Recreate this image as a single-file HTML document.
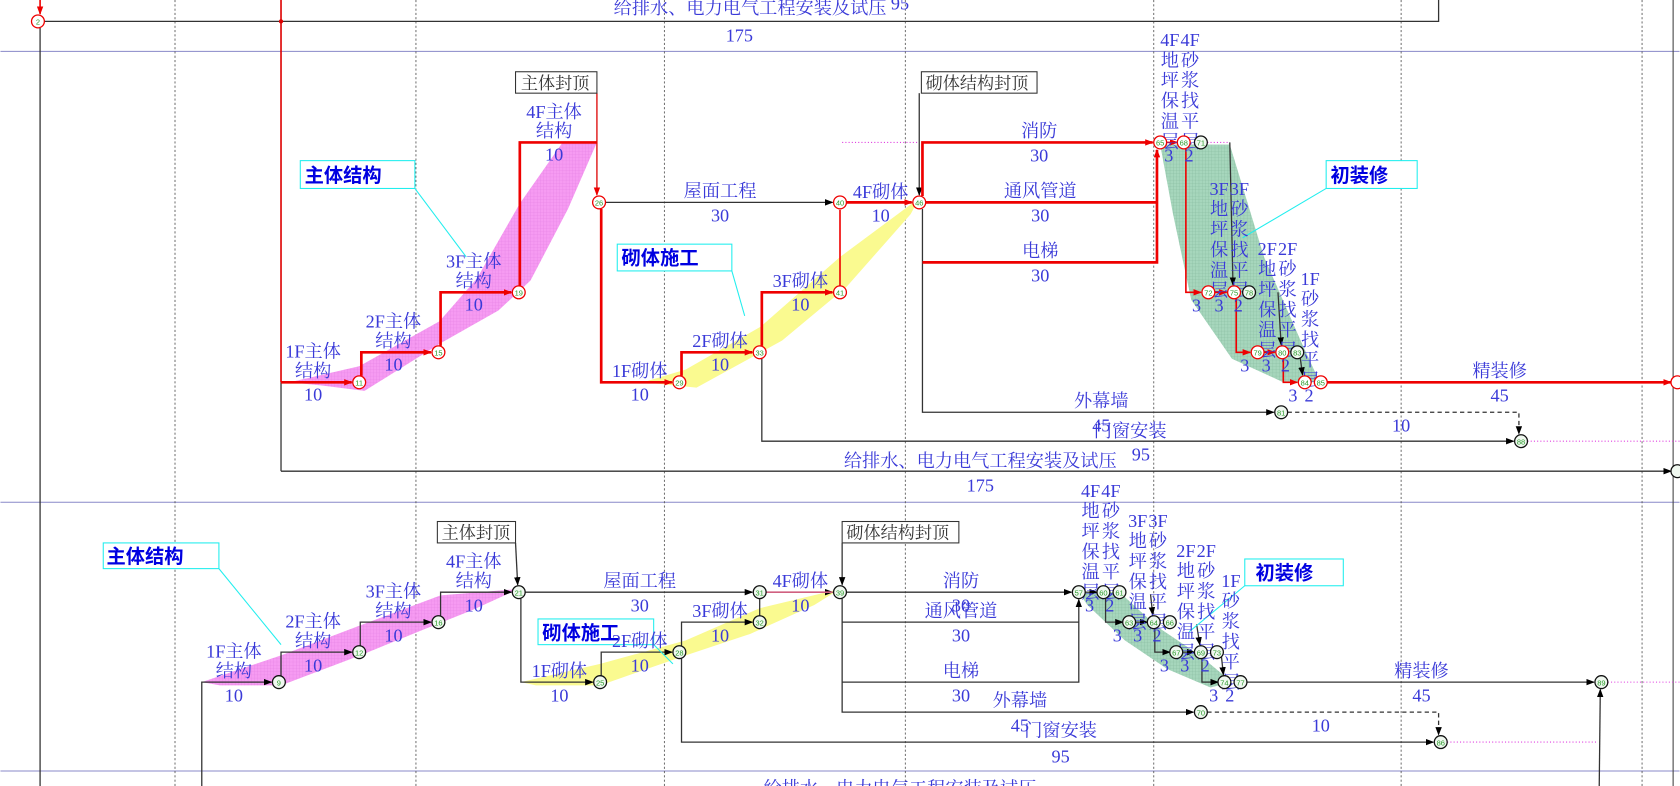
<!DOCTYPE html>
<html><head><meta charset="utf-8"><style>
html,body{margin:0;padding:0;background:#fff;}
svg{display:block;}
text{font-family:"Liberation Serif","Noto Serif CJK SC",serif;fill:#3a3ad8;font-size:17px;text-anchor:middle;}
.n{font-size:7px;fill:#2a9a2a;font-family:"Liberation Sans",sans-serif;}
.cb{font-family:"Liberation Sans","Noto Sans CJK SC",sans-serif;font-weight:bold;fill:#0000e0;font-size:18px;text-anchor:start;}
.bx{fill:#333;font-size:16px;text-anchor:start;}
</style></head><body>
<svg width="1680" height="786" viewBox="0 0 1568 734" xmlns="http://www.w3.org/2000/svg">
<defs>
<marker id="ab" markerWidth="8" markerHeight="6" refX="7" refY="3" orient="auto" markerUnits="userSpaceOnUse"><path d="M0,0 L8,3 L0,6z" fill="#000"/></marker>
<marker id="ar" markerWidth="8" markerHeight="6" refX="7" refY="3" orient="auto" markerUnits="userSpaceOnUse"><path d="M0,0 L8,3 L0,6z" fill="#e00"/></marker>
<pattern id="gp" width="3" height="3" patternUnits="userSpaceOnUse"><rect width="3" height="3" fill="#a6d6bc"/><path d="M0,0h3M0,0v3" stroke="#84b89c" stroke-width="0.5"/></pattern>
<pattern id="pp" width="3" height="3" patternUnits="userSpaceOnUse"><rect width="3" height="3" fill="#f590f0"/><path d="M0,0h3M0,0v3" stroke="#e070e0" stroke-width="0.5"/></pattern>
</defs>
<!-- grid -->
<g stroke="#8888c8" stroke-width="1"><line x1="0" y1="48" x2="1568" y2="48"/><line x1="0" y1="469" x2="1568" y2="469"/><line x1="0" y1="720" x2="1568" y2="720"/></g>
<g stroke="#555" stroke-width="0.8" stroke-dasharray="2,2"><line x1="163" y1="0" x2="163" y2="734"/><line x1="388" y1="0" x2="388" y2="734"/><line x1="620" y1="0" x2="620" y2="734"/><line x1="845" y1="0" x2="845" y2="734"/><line x1="1077" y1="0" x2="1077" y2="734"/><line x1="1308" y1="0" x2="1308" y2="734"/><line x1="1533" y1="0" x2="1533" y2="734"/></g>
<line x1="1562" y1="0" x2="1562" y2="734" stroke="#444" stroke-width="1"/>

<!-- bands -->
<polygon points="270,357 335,342 410,300 445,260 485,190 525,133 557,133 530,195 495,262 465,290 412,320 340,365 300,360" fill="url(#pp)" opacity="0.9"/>
<polygon points="600,357 640,345 710,305 784,240 858,185 850,200 790,268 730,318 650,362" fill="#fafa90"/>
<polygon points="1083,135 1148,135 1180,240 1215,320 1232,357 1198,357 1150,335 1112,280 1095,200" fill="url(#gp)"/>
<polygon points="188,637 262,612 336,584 411,556 484,550 440,570 390,590 336,612 262,640 205,640" fill="url(#pp)" opacity="0.9"/>
<polygon points="486,637 560,620 640,598 709,568 784,550 760,565 700,592 640,612 560,640 500,640" fill="#fafa90"/>
<polygon points="1007,553 1045,553 1080,585 1120,612 1150,637 1130,642 1090,625 1050,598 1015,565" fill="url(#gp)"/>

<!-- top section -->
<g fill="none" stroke="#333" stroke-width="1.2">
<polyline points="41,20 1343,20 1343,0"/>
<line x1="37" y1="26" x2="37" y2="734"/>
</g>
<line x1="37" y1="0" x2="37" y2="13" stroke="#e00" stroke-width="1.5" marker-end="url(#ar)"/>
<line x1="262" y1="0" x2="262" y2="357" stroke="#d00" stroke-width="1.5"/>
<circle cx="262" cy="20" r="2" fill="#d00"/>
<text x="700" y="13">给排水、电力电气工程安装及试压</text>
<text x="840" y="9">95</text>
<text x="690" y="39">175</text>

<!-- middle section: black lines -->
<g fill="none" stroke="#333" stroke-width="1.2">
<line x1="262" y1="357" x2="262" y2="440"/>
<line x1="262" y1="440" x2="1560" y2="440" marker-end="url(#ab)"/>
<line x1="565" y1="189" x2="777" y2="189" marker-end="url(#ab)"/>
<polyline points="557,87 557,182" stroke="#d00" marker-end="url(#ar)"/>
<polyline points="711,335 711,412 1413,412" marker-end="url(#ab)"/>
<polyline points="861,195 861,385 1189,385" marker-end="url(#ab)"/>
<polyline points="1202,385 1418,385 1418,405" stroke-dasharray="4,3" marker-end="url(#ab)"/>
<line x1="858" y1="87" x2="858" y2="182" marker-end="url(#ab)"/>
<line x1="1148" y1="133" x2="1151" y2="266" marker-end="url(#ab)"/>
<line x1="1193" y1="273" x2="1196" y2="322" marker-end="url(#ab)"/>
<line x1="1213" y1="329" x2="1216" y2="350" marker-end="url(#ab)"/>
</g>
<line x1="786" y1="133" x2="858" y2="133" stroke="#e040e0" stroke-dasharray="1,2"/>
<line x1="1127" y1="133" x2="1148" y2="133" stroke="#e040e0" stroke-dasharray="1,2"/>
<line x1="1426" y1="412" x2="1568" y2="412" stroke="#e040e0" stroke-dasharray="1,2"/>
<!-- red critical -->
<g fill="none" stroke="#e00" stroke-width="2.5">
<line x1="262" y1="357" x2="328" y2="357" marker-end="url(#ar)"/>
<polyline points="337,351 337,329 402,329" marker-end="url(#ar)"/>
<polyline points="411,323 411,273 477,273" marker-end="url(#ar)"/>
<polyline points="485,267 485,133 557,133"/>
<polyline points="561,195 561,357 627,357" marker-end="url(#ar)"/>
<polyline points="636,351 636,329 702,329" marker-end="url(#ar)"/>
<polyline points="711,323 711,273 777,273" marker-end="url(#ar)"/>
<line x1="784" y1="267" x2="784" y2="196" stroke-width="1.5"/>
<line x1="790" y1="189" x2="851" y2="189" marker-end="url(#ar)"/>
<polyline points="861,183 861,133 1076,133" marker-end="url(#ar)"/>
<line x1="861" y1="189" x2="1080" y2="189"/>
<polyline points="861,245 1080,245 1080,140" marker-end="url(#ar)"/>
<line x1="1089" y1="133" x2="1099" y2="133" stroke-width="1.5" marker-end="url(#ar)"/>
<polyline points="1107,139 1107,273 1121,273" stroke-width="1.5" marker-end="url(#ar)"/>
<line x1="1134" y1="273" x2="1145" y2="273" stroke-width="1.5" marker-end="url(#ar)"/>
<polyline points="1154,279 1154,329 1167,329" stroke-width="1.5" marker-end="url(#ar)"/>
<line x1="1180" y1="329" x2="1190" y2="329" stroke-width="1.5" marker-end="url(#ar)"/>
<polyline points="1198,335 1198,357 1211,357" stroke-width="1.5" marker-end="url(#ar)"/>
<line x1="1239" y1="357" x2="1560" y2="357" marker-end="url(#ar)"/>
</g>
<!-- boxes and callouts middle -->
<rect x="481" y="67" width="76" height="20" fill="#fff" stroke="#333"/><text class="bx" x="486" y="83">主体封顶</text>
<rect x="860" y="67" width="108" height="20" fill="#fff" stroke="#333"/><text class="bx" x="864" y="83">砌体结构封顶</text>
<line x1="387" y1="176" x2="435" y2="240" stroke="#2ee" stroke-width="1"/>
<rect x="280" y="150" width="107" height="26" fill="#fff" stroke="#2ee"/><text class="cb" x="284" y="170">主体结构</text>
<line x1="683" y1="253" x2="695" y2="295" stroke="#2ee"/>
<rect x="576" y="228" width="107" height="25" fill="#fff" stroke="#2ee"/><text class="cb" x="580" y="247">砌体施工</text>
<line x1="1238" y1="176" x2="1160" y2="222" stroke="#2ee"/>
<rect x="1238" y="150" width="85" height="26" fill="#fff" stroke="#2ee"/><text class="cb" x="1242" y="170">初装修</text>

<!-- middle labels -->
<text x="292" y="334">1F主体</text><text x="292" y="352">结构</text><text x="292" y="374">10</text>
<text x="367" y="306">2F主体</text><text x="367" y="324">结构</text><text x="367" y="346">10</text>
<text x="442" y="250">3F主体</text><text x="442" y="268">结构</text><text x="442" y="290">10</text>
<text x="517" y="110">4F主体</text><text x="517" y="128">结构</text><text x="517" y="150">10</text>
<text x="672" y="184">屋面工程</text><text x="672" y="207">30</text>
<text x="597" y="352">1F砌体</text><text x="597" y="374">10</text>
<text x="672" y="324">2F砌体</text><text x="672" y="346">10</text>
<text x="747" y="268">3F砌体</text><text x="747" y="290">10</text>
<text x="822" y="185">4F砌体</text><text x="822" y="207">10</text>
<text x="970" y="128">消防</text><text x="970" y="151">30</text>
<text x="971" y="184">通风管道</text><text x="971" y="207">30</text>
<text x="971" y="240">电梯</text><text x="971" y="263">30</text>
<text x="1028" y="380">外幕墙</text><text x="1028" y="403">45</text>
<text x="1055" y="408">门窗安装</text><text x="1065" y="430">95</text>
<text x="1308" y="403">10</text>
<text x="915" y="436">给排水、电力电气工程安装及试压</text><text x="915" y="459">175</text>
<text x="1400" y="352">精装修</text><text x="1400" y="375">45</text>
<g>
<text x="1092" y="43">4F<tspan x="1092" dy="19">地</tspan><tspan x="1092" dy="19">坪</tspan><tspan x="1092" dy="19">保</tspan><tspan x="1092" dy="19">温</tspan><tspan x="1092" dy="19">层</tspan></text>
<text x="1111" y="43">4F<tspan x="1111" dy="19">砂</tspan><tspan x="1111" dy="19">浆</tspan><tspan x="1111" dy="19">找</tspan><tspan x="1111" dy="19">平</tspan><tspan x="1111" dy="19">层</tspan></text>
<text x="1091" y="151">3</text><text x="1110" y="151">2</text>
<text x="1138" y="182">3F<tspan x="1138" dy="19">地</tspan><tspan x="1138" dy="19">坪</tspan><tspan x="1138" dy="19">保</tspan><tspan x="1138" dy="19">温</tspan><tspan x="1138" dy="19">层</tspan></text>
<text x="1157" y="182">3F<tspan x="1157" dy="19">砂</tspan><tspan x="1157" dy="19">浆</tspan><tspan x="1157" dy="19">找</tspan><tspan x="1157" dy="19">平</tspan><tspan x="1157" dy="19">层</tspan></text>
<text x="1117" y="291">3</text><text x="1138" y="291">3</text><text x="1156" y="291">2</text>
<text x="1183" y="238">2F<tspan x="1183" dy="19">地</tspan><tspan x="1183" dy="19">坪</tspan><tspan x="1183" dy="19">保</tspan><tspan x="1183" dy="19">温</tspan><tspan x="1183" dy="19">层</tspan></text>
<text x="1202" y="238">2F<tspan x="1202" dy="19">砂</tspan><tspan x="1202" dy="19">浆</tspan><tspan x="1202" dy="19">找</tspan><tspan x="1202" dy="19">平</tspan><tspan x="1202" dy="19">层</tspan></text>
<text x="1162" y="347">3</text><text x="1182" y="347">3</text><text x="1200" y="347">2</text>
<text x="1223" y="266">1F<tspan x="1223" dy="19">砂</tspan><tspan x="1223" dy="19">浆</tspan><tspan x="1223" dy="19">找</tspan><tspan x="1223" dy="19">平</tspan><tspan x="1223" dy="19">层</tspan></text>
<text x="1207" y="375">3</text><text x="1222" y="375">2</text>
</g>

<!-- bottom section lines -->
<g fill="none" stroke="#333" stroke-width="1.2">
<polyline points="188,734 188,637 253,637" marker-end="url(#ab)"/>
<polyline points="262,631 262,609 328,609" marker-end="url(#ab)"/>
<polyline points="336,603 336,581 402,581" marker-end="url(#ab)"/>
<polyline points="411,575 411,553 477,553" marker-end="url(#ab)"/>
<line x1="481" y1="507" x2="483" y2="546" marker-end="url(#ab)"/>
<line x1="490" y1="553" x2="702" y2="553" marker-end="url(#ab)"/>
<polyline points="486,559 486,637 553,637" marker-end="url(#ab)"/>
<polyline points="561,631 561,609 627,609" marker-end="url(#ab)"/>
<polyline points="636,603 636,581 702,581" marker-end="url(#ab)"/>
<line x1="709" y1="575" x2="709" y2="559"/>
<line x1="715" y1="553" x2="777" y2="553" marker-end="url(#ab)"/>
<line x1="786" y1="507" x2="786" y2="546" marker-end="url(#ab)"/>
<line x1="790" y1="553" x2="1000" y2="553" marker-end="url(#ab)"/>
<line x1="786" y1="581" x2="1007" y2="581"/>
<polyline points="786,559 786,637 1007,637 1007,560" marker-end="url(#ab)"/>
<polyline points="786,637 786,665 1114,665" marker-end="url(#ab)"/>
<polyline points="636,615 636,693 1338,693" marker-end="url(#ab)"/>
<polyline points="1127,665 1343,665 1343,686" stroke-dasharray="4,3" marker-end="url(#ab)"/>
<line x1="1013" y1="553" x2="1024" y2="553" marker-end="url(#ab)"/>
<polyline points="1032,559 1032,581 1048,581" marker-end="url(#ab)"/>
<line x1="1060" y1="581" x2="1071" y2="581" marker-end="url(#ab)"/>
<polyline points="1078,587 1078,609 1092,609" marker-end="url(#ab)"/>
<line x1="1104" y1="609" x2="1115" y2="609" marker-end="url(#ab)"/>
<polyline points="1122,615 1122,637 1137,637" marker-end="url(#ab)"/>
<line x1="1074" y1="555" x2="1076" y2="574" marker-end="url(#ab)"/>
<line x1="1117" y1="583" x2="1120" y2="602" marker-end="url(#ab)"/>
<line x1="1140" y1="611" x2="1142" y2="630" marker-end="url(#ab)"/>
<line x1="1164" y1="637" x2="1488" y2="637" marker-end="url(#ab)"/>
<line x1="1493" y1="734" x2="1494" y2="644" marker-end="url(#ab)"/>
</g>
<line x1="1351" y1="693" x2="1490" y2="693" stroke="#e040e0" stroke-dasharray="1,2"/>
<line x1="1501" y1="637" x2="1568" y2="637" stroke="#e040e0" stroke-dasharray="1,2"/>
<line x1="715" y1="553" x2="777" y2="553" stroke="#d06080" stroke-width="1.5"/>

<rect x="408" y="487" width="73" height="20" fill="#fff" stroke="#333"/><text class="bx" x="412" y="503">主体封顶</text>
<rect x="786" y="487" width="109" height="20" fill="#fff" stroke="#333"/><text class="bx" x="790" y="503">砌体结构封顶</text>
<line x1="204" y1="531" x2="262" y2="602" stroke="#2ee"/>
<rect x="96" y="507" width="108" height="24" fill="#fff" stroke="#2ee"/><text class="cb" x="99" y="526">主体结构</text>
<line x1="610" y1="602" x2="628" y2="620" stroke="#2ee"/>
<rect x="502" y="578" width="108" height="24" fill="#fff" stroke="#2ee"/><text class="cb" x="506" y="597">砌体施工</text>
<line x1="1162" y1="547" x2="1110" y2="590" stroke="#2ee"/>
<rect x="1162" y="522" width="92" height="25" fill="#fff" stroke="#2ee"/><text class="cb" x="1172" y="541">初装修</text>

<text x="218" y="614">1F主体</text><text x="218" y="632">结构</text><text x="218" y="655">10</text>
<text x="292" y="586">2F主体</text><text x="292" y="604">结构</text><text x="292" y="627">10</text>
<text x="367" y="558">3F主体</text><text x="367" y="576">结构</text><text x="367" y="599">10</text>
<text x="442" y="530">4F主体</text><text x="442" y="548">结构</text><text x="442" y="571">10</text>
<text x="597" y="548">屋面工程</text><text x="597" y="571">30</text>
<text x="522" y="632">1F砌体</text><text x="522" y="655">10</text>
<text x="597" y="604">2F砌体</text><text x="597" y="627">10</text>
<text x="672" y="576">3F砌体</text><text x="672" y="599">10</text>
<text x="747" y="548">4F砌体</text><text x="747" y="571">10</text>
<text x="897" y="548">消防</text><text x="897" y="571">30</text>
<text x="897" y="576">通风管道</text><text x="897" y="599">30</text>
<text x="897" y="632">电梯</text><text x="897" y="655">30</text>
<text x="952" y="660">外幕墙</text><text x="952" y="683">45</text>
<text x="990" y="688">门窗安装</text><text x="990" y="712">95</text>
<text x="1233" y="683">10</text>
<text x="1327" y="632">精装修</text><text x="1327" y="655">45</text>
<text x="840" y="742">给排水、电力电气工程安装及试压</text>
<g>
<text x="1018" y="464">4F<tspan x="1018" dy="19">地</tspan><tspan x="1018" dy="19">坪</tspan><tspan x="1018" dy="19">保</tspan><tspan x="1018" dy="19">温</tspan><tspan x="1018" dy="19">层</tspan></text>
<text x="1037" y="464">4F<tspan x="1037" dy="19">砂</tspan><tspan x="1037" dy="19">浆</tspan><tspan x="1037" dy="19">找</tspan><tspan x="1037" dy="19">平</tspan><tspan x="1037" dy="19">层</tspan></text>
<text x="1017" y="571">3</text><text x="1036" y="571">2</text>
<text x="1062" y="492">3F<tspan x="1062" dy="19">地</tspan><tspan x="1062" dy="19">坪</tspan><tspan x="1062" dy="19">保</tspan><tspan x="1062" dy="19">温</tspan><tspan x="1062" dy="19">层</tspan></text>
<text x="1081" y="492">3F<tspan x="1081" dy="19">砂</tspan><tspan x="1081" dy="19">浆</tspan><tspan x="1081" dy="19">找</tspan><tspan x="1081" dy="19">平</tspan><tspan x="1081" dy="19">层</tspan></text>
<text x="1043" y="599">3</text><text x="1062" y="599">3</text><text x="1080" y="599">2</text>
<text x="1107" y="520">2F<tspan x="1107" dy="19">地</tspan><tspan x="1107" dy="19">坪</tspan><tspan x="1107" dy="19">保</tspan><tspan x="1107" dy="19">温</tspan><tspan x="1107" dy="19">层</tspan></text>
<text x="1126" y="520">2F<tspan x="1126" dy="19">砂</tspan><tspan x="1126" dy="19">浆</tspan><tspan x="1126" dy="19">找</tspan><tspan x="1126" dy="19">平</tspan><tspan x="1126" dy="19">层</tspan></text>
<text x="1087" y="627">3</text><text x="1106" y="627">3</text><text x="1125" y="627">2</text>
<text x="1149" y="548">1F<tspan x="1149" dy="19">砂</tspan><tspan x="1149" dy="19">浆</tspan><tspan x="1149" dy="19">找</tspan><tspan x="1149" dy="19">平</tspan><tspan x="1149" dy="19">层</tspan></text>
<text x="1133" y="655">3</text><text x="1148" y="655">2</text>
</g>

<!-- nodes -->
<g stroke="#e00" stroke-width="1.2" fill="#fff">
<circle cx="35" cy="20" r="6"/><circle cx="335" cy="357" r="6"/><circle cx="409" cy="329" r="6"/><circle cx="484" cy="273" r="6"/>
<circle cx="559" cy="189" r="6"/><circle cx="634" cy="357" r="6"/><circle cx="709" cy="329" r="6"/><circle cx="784" cy="273" r="6"/>
<circle cx="784" cy="189" r="6"/><circle cx="858" cy="189" r="6"/><circle cx="1083" cy="133" r="6"/><circle cx="1105" cy="133" r="6"/>
<circle cx="1128" cy="273" r="6"/><circle cx="1152" cy="273" r="6"/><circle cx="1174" cy="329" r="6"/><circle cx="1197" cy="329" r="6"/>
<circle cx="1218" cy="357" r="6"/><circle cx="1233" cy="357" r="6"/><circle cx="1566" cy="357" r="6"/>
</g>
<g stroke="#111" stroke-width="1.2" fill="#f0f8f0">
<circle cx="1121" cy="133" r="6"/><circle cx="1166" cy="273" r="6"/><circle cx="1211" cy="329" r="6"/><circle cx="1196" cy="385" r="6"/><circle cx="1420" cy="412" r="6"/><circle cx="1566" cy="440" r="6"/>
<circle cx="260" cy="637" r="6"/><circle cx="335" cy="609" r="6"/><circle cx="409" cy="581" r="6"/><circle cx="484" cy="553" r="6"/>
<circle cx="560" cy="637" r="6"/><circle cx="634" cy="609" r="6"/><circle cx="709" cy="581" r="6"/><circle cx="709" cy="553" r="6"/><circle cx="784" cy="553" r="6"/>
<circle cx="1007" cy="553" r="6"/><circle cx="1030" cy="553" r="6"/><circle cx="1045" cy="553" r="6"/>
<circle cx="1054" cy="581" r="6"/><circle cx="1077" cy="581" r="6"/><circle cx="1092" cy="581" r="6"/>
<circle cx="1098" cy="609" r="6"/><circle cx="1121" cy="609" r="6"/><circle cx="1136" cy="609" r="6"/>
<circle cx="1143" cy="637" r="6"/><circle cx="1158" cy="637" r="6"/><circle cx="1121" cy="665" r="6"/><circle cx="1345" cy="693" r="6"/><circle cx="1495" cy="637" r="6"/>
</g>
<g>
<text class="n" x="35" y="23">2</text><text class="n" x="335" y="360">11</text><text class="n" x="409" y="332">15</text><text class="n" x="484" y="276">19</text>
<text class="n" x="559" y="192">26</text><text class="n" x="634" y="360">29</text><text class="n" x="709" y="332">33</text><text class="n" x="784" y="276">41</text>
<text class="n" x="784" y="192">40</text><text class="n" x="858" y="192">46</text><text class="n" x="1083" y="136">65</text><text class="n" x="1105" y="136">68</text><text class="n" x="1121" y="136">71</text>
<text class="n" x="1128" y="276">72</text><text class="n" x="1152" y="276">75</text><text class="n" x="1166" y="276">78</text>
<text class="n" x="1174" y="332">79</text><text class="n" x="1197" y="332">80</text><text class="n" x="1211" y="332">83</text>
<text class="n" x="1218" y="360">84</text><text class="n" x="1233" y="360">85</text><text class="n" x="1196" y="388">81</text><text class="n" x="1420" y="415">88</text>
<text class="n" x="260" y="640">9</text><text class="n" x="335" y="612">12</text><text class="n" x="409" y="584">16</text><text class="n" x="484" y="556">21</text>
<text class="n" x="560" y="640">25</text><text class="n" x="634" y="612">28</text><text class="n" x="709" y="584">32</text><text class="n" x="709" y="556">31</text><text class="n" x="784" y="556">39</text>
<text class="n" x="1007" y="556">57</text><text class="n" x="1030" y="556">60</text><text class="n" x="1045" y="556">61</text>
<text class="n" x="1054" y="584">63</text><text class="n" x="1077" y="584">64</text><text class="n" x="1092" y="584">66</text>
<text class="n" x="1098" y="612">67</text><text class="n" x="1121" y="612">69</text><text class="n" x="1136" y="612">73</text>
<text class="n" x="1143" y="640">74</text><text class="n" x="1158" y="640">77</text><text class="n" x="1121" y="668">70</text><text class="n" x="1345" y="696">86</text><text class="n" x="1495" y="640">89</text>
</g>
</svg>
</body></html>
